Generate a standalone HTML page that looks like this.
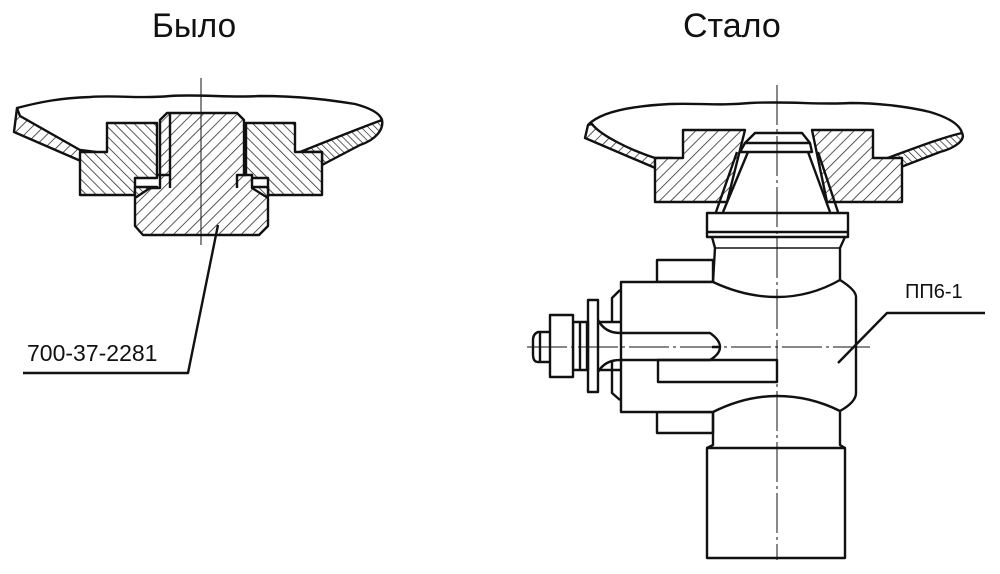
<!DOCTYPE html>
<html><head><meta charset="utf-8"><style>
html,body{margin:0;padding:0;background:#fff;}
svg{display:block;}
text{font-family:"Liberation Sans",sans-serif;fill:#111;}
</style></head><body>
<svg width="1000" height="574" viewBox="0 0 1000 574" xmlns="http://www.w3.org/2000/svg">
<defs>
<pattern id="h1" patternUnits="userSpaceOnUse" width="8" height="8" patternTransform="rotate(45)">
<rect width="8" height="8" fill="#fff"/><line x1="0" y1="0" x2="0" y2="8" stroke="#222" stroke-width="1.5"/></pattern>
<pattern id="h2" patternUnits="userSpaceOnUse" width="7" height="7" patternTransform="rotate(-45)">
<rect width="7" height="7" fill="#fff"/><line x1="0" y1="0" x2="0" y2="7" stroke="#222" stroke-width="1.5"/></pattern>
<pattern id="h3" patternUnits="userSpaceOnUse" width="5" height="5" patternTransform="rotate(-45)">
<rect width="5" height="5" fill="#fff"/><line x1="0" y1="0" x2="0" y2="5" stroke="#222" stroke-width="1.4"/></pattern>
</defs>
<text x="152" y="37" font-size="34" transform="translate(152 0) scale(0.98 1) translate(-152 0)">Было</text>
<text x="683" y="37" font-size="34">Стало</text>

<g fill="none" stroke="#111" stroke-width="2.4" stroke-linejoin="round">
<!-- LEFT -->
<path d="M17,108 C40,102 60,98 90,97 C120,95 140,99 170,96 C200,94 230,98 260,96 C300,96 330,100 355,104 C370,108 380,113 382,120"/>
<path d="M17,108 L14,132 L90,165 L96,165 L96,152 L80,150 L20,116 Z" fill="url(#h1)"/>
<path d="M382,120 C384,130 375,140 360,145 L322,165 L322,152 L300,152 C330,140 360,128 382,120 Z" fill="url(#h3)"/>
<path d="M80,152 L107,152 L107,123 L157,123 L157,178 L135,178 L135,195 L80,195 Z" fill="url(#h2)"/>
<path d="M322,152 L295,152 L295,123 L246,123 L246,178 L268,178 L268,195 L322,195 Z" fill="url(#h2)"/>
<rect x="135" y="187" width="22" height="10" fill="url(#h3)"/>
<rect x="246" y="187" width="22" height="10" fill="url(#h3)"/>
<path d="M167,113 L237,113 L244,120 L244,175 L252,175 L252,188 L268,198 L268,226 L259,235 L143,235 L135,226 L135,198 L150,188 L160,188 L160,120 Z" fill="url(#h1)"/>
<path d="M170,113 L170,188"/>
<path d="M157,175 L170,175 M246,175 L237,175 L237,188"/>
<path d="M218,225 L188,373 L23,373"/>
</g>
<line x1="201" y1="78" x2="201" y2="245" stroke="#111" stroke-width="1"/>
<text x="27" y="361" font-size="23">700-37-2281</text>

<!-- RIGHT -->
<g fill="none" stroke="#111" stroke-width="2.4" stroke-linejoin="round">
<path d="M588,125 C600,112 630,106 670,104 C700,103 720,106 750,103 C790,101 820,105 850,103 C880,103 910,107 930,112 C950,118 960,125 962,133"/>
<path d="M588,125 L585,138 L660,170 L672,172 L672,158 L655,158 C630,150 600,135 592,124 Z" fill="url(#h1)"/>
<path d="M962,133 C966,140 955,148 940,152 L888,172 L882,172 L882,160 C910,150 940,138 962,133 Z" fill="url(#h3)"/>
<path d="M655,158 L683,158 L683,130 L745,130 L727,202 L655,202 Z" fill="url(#h1)"/>
<path d="M902,158 L873,158 L873,130 L812,130 L827,202 L902,202 Z" fill="url(#h1)"/>
<path d="M755,133 L802,133 L810,143 L812,152 L740,152 L745,143 Z" fill="#fff"/>
<path d="M745,143 L810,143"/>
<path d="M748,152 L723,212 M808,152 L830,212"/>
<path d="M737,152 L716,212 M818,152 L838,212"/>
<rect x="707" y="213" width="141" height="24" fill="#fff"/>
<line x1="707" y1="232" x2="848" y2="232"/>
<path d="M712,237 L715,248 L713,282 M845,237 L840,248 L840,280"/>
<line x1="715" y1="248" x2="840" y2="248" stroke-width="1.5"/>
<rect x="657" y="260" width="56" height="22"/>
<rect x="657" y="412" width="56" height="21"/>
<path d="M621,282 L713,282 Q745,297 777,297 Q810,297 840,280 Q856,290 856,297 L856,393 Q856,402 840,411 Q810,396 777,396 Q745,396 713,412 L621,412 Z" fill="#fff"/>
<path d="M713,412 L713,445 L707,448 M840,411 L840,445 L845,448"/>
<rect x="707" y="448" width="138" height="110"/>
<path d="M612,323 L612,298 L620,290 M612,360 L612,393 L620,400"/>
<path d="M598,322 L620,322 M598,370 L620,370"/>
<path d="M620,333 L710,333 Q720,340 720,347 Q720,354 710,360 L620,360 M720,347 L712,347"/>
<path d="M598,320 Q605,333 620,333 M598,372 Q605,360 620,360"/>
<rect x="658" y="360" width="119" height="22"/>
<rect x="588" y="300" width="10" height="92" fill="#fff"/>
<rect x="573" y="322" width="15" height="48" fill="#fff"/>
<path d="M580,322 L580,370 M587,322 L587,370"/>
<rect x="550" y="315" width="23" height="62" fill="#fff"/>
<path d="M550,332 L538,332 Q533,334 533,340 L533,354 Q533,362 538,362 L550,362"/>
<path d="M540,332 L540,362"/>
<path d="M838,363 L887,313 L985,313"/>
</g>
<line x1="777" y1="85" x2="777" y2="560" stroke="#111" stroke-width="1" stroke-dasharray="40,4,3,4"/>
<line x1="527" y1="347" x2="870" y2="347" stroke="#111" stroke-width="1" stroke-dasharray="40,4,3,4"/>
<text x="905" y="298" font-size="20">ПП6-1</text>
</svg>
</body></html>
